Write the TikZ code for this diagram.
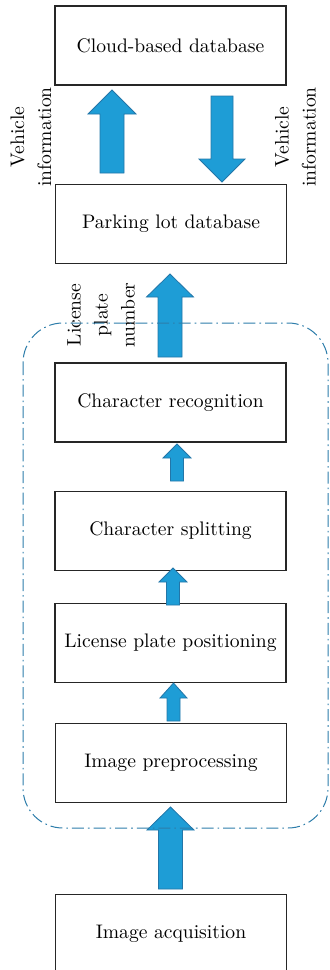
\documentclass[tikz,border=0pt]{standalone}
\usetikzlibrary{calc}

\definecolor{arrowfill}{RGB}{30,157,214}
\definecolor{arrowline}{RGB}{35,118,168}
\definecolor{groupline}{RGB}{45,125,170}

% block arrow from tail coordinate #1 to tip coordinate #2
% #3 shaft half width, #4 head half width, #5 head length
\newcommand{\blockarrow}[5]{%
  \path[draw=arrowline,fill=arrowfill,line width=0.4pt]
    let \p1=(#1), \p2=(#2), \p3=($(#2)!#5!(#1)$) in
    (\x1-#3,\y1) -- (\x1-#3,\y3) -- (\x1-#4,\y3) -- (\p2)
    -- (\x1+#4,\y3) -- (\x1+#3,\y3) -- (\x1+#3,\y1) -- cycle;}

\begin{document}
\begin{tikzpicture}[x=0.5pt,y=-0.5pt,
box/.style={rectangle,draw=black!85,line width=0.7pt,minimum width=115.5pt,minimum height=39.5pt,inner sep=0pt,align=center,font=\fontsize{9.8}{12}\selectfont},
sidetext/.style={rotate=90,align=center,inner sep=0pt,font=\fontsize{9.8}{13.5}\selectfont},
groupbox/.style={draw=groupline,line width=0.5pt,rounded corners=20pt,dash pattern=on 6pt off 2pt on 0.8pt off 2pt},
]
\useasboundingbox (0,0) rectangle (329,970);

% Datenbanken
\node[box] (cloud) at (170.5,45.5) {Cloud-based database};
\node[box] (parking) at (171,224) {Parking lot database};

% Erkennung
\node[box] (recog) at (170.5,402.5) {Character recognition};
\node[box] (split) at (170.5,531) {Character splitting};
\node[box] (posit) at (170.5,643) {License plate positioning};
\node[box] (prep) at (171,763) {Image preprocessing};
\node[box] (acq) at (171,934) {Image acquisition};

\node[sidetext] (vinfoL) at (31,137) {Vehicle\\information};
\node[sidetext] (vinfoR) at (295.5,137) {Vehicle\\information};
\node[sidetext] (plate) at (101,315) {License\\plate\\number};

\coordinate (up1a) at (112,173);   \coordinate (up1b) at (112,90);
\coordinate (dn1a) at (222,96);    \coordinate (dn1b) at (222,182);
\coordinate (up2a) at (170,357);   \coordinate (up2b) at (170,274);
\coordinate (up3a) at (177,481);   \coordinate (up3b) at (177,444);
\coordinate (up4a) at (173,605);   \coordinate (up4b) at (173,568);
\coordinate (up5a) at (173.5,721); \coordinate (up5b) at (173.5,683);
\coordinate (up6a) at (170.5,889); \coordinate (up6b) at (170.5,807);

\blockarrow{up1a}{up1b}{6pt}{12pt}{12pt}
\blockarrow{dn1a}{dn1b}{5.5pt}{11.5pt}{11.5pt}
\blockarrow{up2a}{up2b}{6pt}{11.75pt}{11.5pt}
\blockarrow{up3a}{up3b}{3.25pt}{7pt}{7pt}
\blockarrow{up4a}{up4b}{3.25pt}{7pt}{7pt}
\blockarrow{up5a}{up5b}{3.25pt}{6.75pt}{7.5pt}
\blockarrow{up6a}{up6b}{6pt}{11.75pt}{11.5pt}

\draw[groupbox] (23,323) rectangle (328,828);

\end{tikzpicture}
\end{document}
